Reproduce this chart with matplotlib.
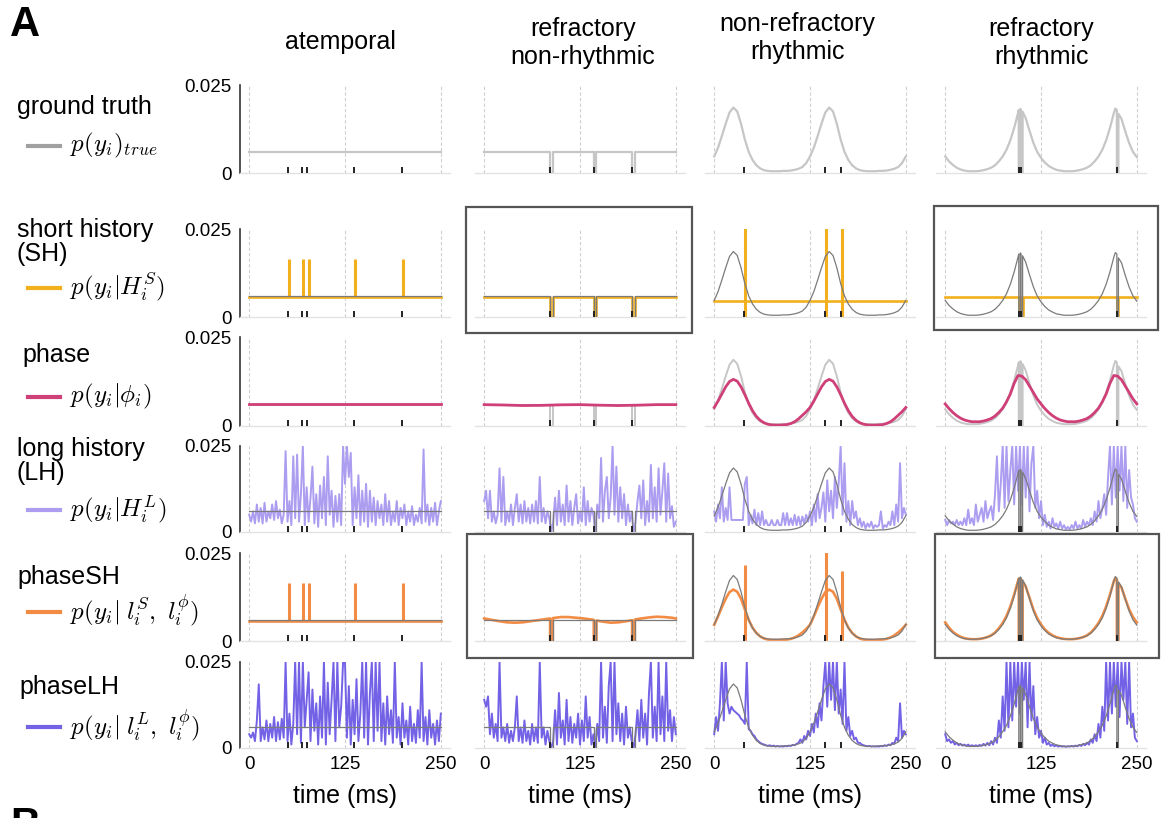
import numpy as np
import matplotlib.pyplot as plt
from matplotlib.lines import Line2D
from matplotlib.patches import Rectangle

plt.rcParams['font.family'] = ['Liberation Sans', 'DejaVu Sans']
plt.rcParams['mathtext.fontset'] = 'cm'

# ---------------- data (probabilities in units of 1e-3) ----------------
t5 = np.arange(0, 251, 5)          # 51 samples
t25 = np.arange(0, 250.1, 2.5)     # 101 samples
flat_t = [0, 250]

# spike times (ms) per condition
spikes_atemp = [50, 69, 76, 137, 199]
spikes_refr = [86, 143, 193]
spikes_rhyth = [39, 144, 165]
spikes_rr = [96, 99, 224]

# --- atemporal ---
gt_atemp = [6.0, 6.0]
sh_atemp = [5.7, 5.7]
phase_atemp = [6.2, 6.2]
psh_atemp = [5.8, 5.8]
needle_t_atemp = [51.5, 70.5, 77.5, 138.5, 200.5]
needle_sh_atemp = [16.5, 16.5, 16.5, 16.5, 16.5]
needle_psh_atemp = [16.5, 16.5, 16.5, 16.5, 16.5]
lh_atemp = [5, 3, 6, 2.5, 8, 3, 7, 2.5, 8.5, 3,
            6, 4, 8, 3.5, 9, 4, 6.5, 2.5, 5, 23.5,
            3, 9, 2, 22, 4, 22.5, 3, 11, 25, 2,
            13, 3, 10, 19, 2.5, 11, 1.5, 13.5, 4, 16,
            2, 22, 5, 12, 1.5, 10.5, 3, 11, 2, 25,
            14, 25, 16, 23, 2, 13, 4, 16.5, 2, 12,
            3, 14, 1.5, 12, 3, 10, 2, 9, 4, 8,
            2, 11, 3, 9, 2, 6, 3, 9, 2, 7,
            4, 8, 2, 6, 3, 7.5, 2, 5, 3, 7,
            2.5, 24, 3, 8, 2, 7, 3, 8.5, 2, 6,
            9]
plh_atemp = [4, 3, 4.5, 2, 8, 18.5, 2, 6, 2.5, 8,
             2, 7, 3, 9, 2, 7.5, 2.5, 8.5, 3, 25,
             2, 10, 1, 7, 25, 4, 25, 1.5, 25, 6,
             14, 22, 2, 17, 5, 13, 1, 15, 3, 25,
             1, 19, 4, 14, 25, 2, 25, 6, 12, 25,
             25, 3, 18, 1, 14, 4, 20, 2, 10, 25,
             3, 25, 1, 16, 25, 2, 25, 5, 25, 2,
             13, 1, 15, 4, 11, 1.5, 25, 3, 9, 1,
             13, 3, 8, 1, 12, 2, 7, 1.5, 11, 3,
             25, 2, 9, 1, 11, 3, 7, 1, 8, 2,
             10]

# --- refractory non-rhythmic ---
refr_t = [0, 86, 86, 89.5, 89.5, 143, 143, 146.5, 146.5, 193, 193, 196.5, 196.5, 250]
gt_refr = [6, 6, 0, 0, 6, 6, 0, 0, 6, 6, 0, 0, 6, 6]
sh_refr = [5.7, 5.7, 0, 0, 5.7, 5.7, 0, 0, 5.7, 5.7, 0, 0, 5.7, 5.7]
phase_refr_t = [0, 25, 50, 75, 100, 125, 150, 175, 200, 225, 250]
phase_refr = [6.0, 5.9, 5.75, 5.8, 5.95, 6.0, 5.85, 5.75, 5.85, 6.0, 6.0]
psh_refr_t = [0, 10, 20, 30, 40, 50, 60, 70, 80, 86, 86, 89.5, 89.5, 100, 110, 120, 130,
              143, 143, 146.5, 146.5, 155, 165, 175, 185, 193, 193, 196.5, 196.5,
              205, 215, 225, 235, 245, 250]
psh_refr = [6.4, 6.0, 5.6, 5.3, 5.2, 5.3, 5.6, 5.9, 6.2, 6.4, 0, 0, 6.5, 6.8, 6.8, 6.6, 6.4,
            6.0, 0, 0, 5.8, 5.5, 5.2, 5.3, 5.6, 5.9, 0, 0, 6.1,
            6.4, 6.7, 6.9, 6.8, 6.6, 6.4]
lh_refr = [9, 12, 4, 12, 3, 6, 2.5, 5, 18.5, 3,
           16, 2, 6, 3, 8, 2, 7, 11, 3, 8,
           2.5, 9, 3, 7, 2.5, 8, 3, 9, 2.5, 16,
           3, 7, 2.5, 6, 4, 0, 3, 10, 2, 12,
           3, 8, 2, 13.5, 3, 9, 2, 7, 11, 2.5,
           6, 3, 13, 2, 9, 3, 7, 5, 0, 8,
           4, 21.5, 3, 12, 16, 4, 10, 25, 5, 19,
           3, 13, 4, 11, 2, 8, 3, 6, 0, 3,
           9, 13.5, 4, 15, 2, 9, 3, 19.5, 4, 13,
           3, 18.5, 5, 12, 20, 3, 17, 4, 7.5, 1.5,
           3]
plh_refr = [14, 12, 15, 4, 10, 3, 7, 2, 25, 3,
            6, 2, 7, 1.5, 5, 2, 6, 15, 2, 6,
            1.5, 8, 2, 5, 1, 7, 2, 6, 1.5, 25,
            3, 6, 1, 5, 2, 0, 2, 11, 1, 16,
            3, 8, 1, 14, 2, 9, 1.5, 7, 3, 10,
            1, 8, 2, 15, 3, 9, 1, 4, 0, 7,
            2, 25, 3, 12, 1.5, 18, 25, 2, 25, 4,
            13, 2, 10, 1, 12, 3, 6, 2, 0, 4,
            11, 2, 14, 3, 10, 1, 16, 25, 3, 12,
            2, 25, 4, 15, 2, 25, 5, 11, 2, 9,
            4]

# --- non-refractory rhythmic (values every 5 ms) ---
gt_rhyth = [4.7, 7.2, 10.5, 14.0, 17.2, 18.6, 17.5, 14.0, 9.5, 6.0,
            3.7, 2.2, 1.3, 0.8, 0.6, 0.5, 0.5, 0.5, 0.6, 0.6,
            0.7, 0.9, 1.2, 1.7, 2.8, 4.7, 7.2, 10.5, 14.0, 17.2,
            18.6, 17.5, 14.0, 9.5, 6.0, 3.7, 2.2, 1.3, 0.8, 0.6,
            0.5, 0.5, 0.5, 0.6, 0.6, 0.7, 0.9, 1.2, 1.7, 2.8,
            4.7]
sh_rhyth = [4.6, 4.6]
needle_t_rhyth = [40.5, 145.5, 166.5]
needle_sh_rhyth = [26, 26, 26]
needle_psh_rhyth = [21.6, 26, 19.8]
phase_rhyth = [5.2, 7.0, 9.0, 11.0, 12.5, 13.1, 12.6, 11.0, 8.8, 6.4,
               4.3, 2.7, 1.6, 0.9, 0.5, 0.3, 0.25, 0.25, 0.3, 0.4,
               0.7, 1.2, 2.0, 3.0, 4.0, 5.2, 7.0, 9.0, 11.0, 12.5,
               13.1, 12.6, 11.0, 8.8, 6.4, 4.3, 2.7, 1.6, 0.9, 0.5,
               0.3, 0.25, 0.25, 0.3, 0.4, 0.7, 1.2, 2.0, 3.0, 4.0,
               5.2]
psh_rhyth = [4.6, 7.0, 9.6, 12.0, 13.9, 14.6, 14.0, 12.0, 9.0, 6.0,
             3.8, 2.3, 1.3, 0.7, 0.4, 0.3, 0.3, 0.3, 0.3, 0.4,
             0.6, 1.0, 1.6, 2.4, 3.4, 4.6, 7.0, 9.6, 12.0, 13.9,
             14.6, 14.0, 12.0, 9.0, 6.0, 3.8, 2.3, 1.3, 0.7, 0.4,
             0.3, 0.3, 0.3, 0.3, 0.4, 0.6, 1.0, 1.6, 2.4, 3.4,
             4.6]
lh_rhyth = [6, 3, 8, 4, 13, 3, 7, 3.5, 13, 3.5,
            3.5, 3.5, 3.5, 3.5, 3.5, 3.5, 14, 16, 2, 5,
            2.5, 6.5, 2, 5.5, 2, 6, 2, 3.5, 2, 2,
            3.5, 2, 2, 3.5, 2, 2, 5.5, 2, 5.5, 2,
            4, 2, 5, 2, 4.5, 2, 4.5, 2.5, 5, 3,
            6, 2, 8, 3, 11, 4, 7, 11.5, 3, 15,
            6, 12, 4, 16, 7, 14.5, 25, 5, 20, 3,
            9, 2, 9, 4, 6, 2, 4, 1.5, 3, 1,
            2.5, 1.5, 3, 1, 2, 1.5, 2, 6, 1, 2,
            1.5, 3, 2, 6, 2, 8, 3, 20, 4, 7,
            5]
plh_rhyth = [4, 9, 5, 13, 25, 8, 25, 13, 10, 12,
             11, 10.5, 10, 9.5, 8.5, 8, 7, 25, 5.5, 5,
             4, 3.5, 2.5, 2, 1.5, 1.2, 1, 0.8, 0.6, 0.8,
             0.5, 0.7, 0.4, 0.6, 0.4, 0.5, 0.4, 0.6, 0.5, 0.7,
             0.6, 0.9, 0.8, 1.2, 1.5, 2.5, 1.5, 3.5, 2.5, 5,
             3.5, 7, 4.5, 10, 6, 13, 8, 18, 25, 12,
             25, 14, 25, 11, 25, 10, 17, 7, 25, 5,
             9, 3.5, 5, 2.5, 3, 1.5, 1.5, 1, 0.8, 0.6,
             0.5, 0.6, 0.4, 0.5, 0.4, 0.5, 0.4, 0.6, 0.5, 0.8,
             0.6, 1, 0.8, 1.5, 1.2, 3, 2, 13, 3, 5,
             4]

# --- refractory rhythmic ---
rr_t = [0, 5, 10, 15, 20, 25, 30, 35, 40, 45, 50, 55, 60, 65, 70, 75, 80, 85, 90, 95,
        96, 96, 98, 98, 99, 99, 101, 101,
        105, 110, 115, 120, 125, 130, 135, 140, 145, 150, 155, 160, 165, 170, 175, 180,
        185, 190, 195, 200, 205, 210, 215, 220,
        222, 224, 224, 226, 226,
        230, 235, 240, 245, 250]
gt_rr = [4.7, 3.3, 2.3, 1.5, 1.0, 0.7, 0.5, 0.5, 0.5, 0.6, 0.8, 1.1, 1.5, 2.2, 3.3, 4.7,
         6.6, 9.3, 12.8, 17.0,
         17.9, 0, 0, 18.2, 18.0, 0, 0, 17.4,
         15.6, 12.0, 8.6, 6.0, 4.3, 3.0, 2.0, 1.4, 0.9, 0.7, 0.5, 0.5, 0.5, 0.6, 0.8, 1.1,
         1.5, 2.2, 3.3, 4.7, 6.6, 9.3, 12.8, 17.0,
         18.3, 17.9, 0, 0, 16.8,
         15.4, 11.8, 8.5, 6.0, 4.5]
sh_rr_t = [0, 96, 96, 98, 98, 99, 99, 101, 101, 224, 224, 226, 226, 250]
sh_rr = [5.6, 5.6, 0, 0, 5.6, 5.6, 0, 0, 5.6, 5.6, 0, 0, 5.6, 5.6]
phase_rr = [6.2, 4.9, 3.8, 2.9, 2.2, 1.7, 1.4, 1.2, 1.2, 1.2,
            1.4, 1.7, 2.1, 2.8, 3.8, 5.0, 6.8, 9.0, 12.0, 14.2,
            14.0, 13.0, 11.2, 9.4, 7.6, 6.2, 4.9, 3.8, 2.9, 2.2,
            1.7, 1.4, 1.2, 1.2, 1.2, 1.4, 1.7, 2.1, 2.8, 3.8,
            5.0, 6.8, 9.0, 12.0, 14.2, 14.0, 13.0, 11.2, 9.4, 7.6,
            6.2]
psh_rr = [5.3, 3.8, 2.6, 1.8, 1.2, 0.8, 0.6, 0.5, 0.5, 0.6, 0.8, 1.1, 1.6, 2.4, 3.6, 5.1,
          7.1, 9.8, 13.2, 17.0,
          17.7, 0, 0, 17.8, 17.5, 0, 0, 16.9,
          15.5, 12.3, 9.0, 6.5, 4.7, 3.3, 2.3, 1.6, 1.1, 0.8, 0.6, 0.5, 0.5, 0.6, 0.8, 1.1,
          1.6, 2.4, 3.6, 5.1, 7.1, 9.8, 13.2, 17.0,
          17.9, 17.4, 0, 0, 16.4,
          15.2, 12.0, 9.0, 6.8, 5.3]
lh_rr = [3.5, 2, 3.5, 2.5, 3, 2, 3.5, 2, 3, 2,
         4, 2, 6.5, 2.5, 4, 2, 8, 3, 5, 7,
         3, 9, 4, 6, 7.5, 3.5, 11, 22, 6, 14,
         25, 7, 25, 9, 18, 25, 8, 25, 12, 25,
         8, 25, 10, 25, 6, 20, 25, 7, 12, 4,
         9, 2, 5, 1.5, 3, 1, 4, 1.5, 2.5, 1,
         3, 1, 2, 0.8, 1.5, 0.7, 2, 1, 3, 1,
         2, 1, 3.5, 1.5, 3, 2, 4, 2, 6, 3,
         9, 4, 7, 11, 5, 16, 25, 8, 25, 10,
         25, 12, 25, 9, 25, 7, 18, 10, 8, 4,
         3]
plh_rr = [4, 2, 2.5, 1.5, 2, 1, 1.5, 0.8, 1.2, 0.7,
          1, 0.6, 1, 0.5, 0.8, 0.5, 0.8, 0.5, 0.9, 0.6,
          1.2, 0.7, 1.5, 0.8, 2, 1, 3, 1.5, 8, 3,
          15, 5, 25, 6, 25, 8, 25, 12, 25, 10,
          25, 14, 25, 6, 25, 8, 18, 4, 9, 3,
          5, 1.5, 3, 1, 1.5, 0.6, 1, 0.5, 0.8, 0.4,
          0.6, 0.4, 0.5, 0.3, 0.5, 0.4, 0.6, 0.4, 0.7, 0.5,
          0.9, 0.6, 1.2, 0.8, 1.5, 1, 2.5, 1.5, 4, 2,
          7, 3, 12, 5, 25, 8, 25, 10, 25, 12,
          25, 9, 25, 14, 25, 7, 25, 6, 10, 3,
          2]

col_titles = ['atemporal', 'refractory\nnon-rhythmic', 'non-refractory\nrhythmic', 'refractory\nrhythmic']
row_names = ['ground truth', 'short history\n(SH)', 'phase', 'long history\n(LH)', 'phaseSH', 'phaseLH']
row_math = [r'$p(y_i)_{true}$', r'$p(y_i|H_i^S)$', r'$p(y_i|\phi_i)$', r'$p(y_i|H_i^L)$',
            r'$p(y_i|\;l_i^S,\ l_i^\phi)$', r'$p(y_i|\;l_i^L,\ l_i^\phi)$']

# ---------------- tables built from the lists ----------------
spikes = [spikes_atemp, spikes_refr, spikes_rhyth, spikes_rr]
gt = [(flat_t, gt_atemp), (refr_t, gt_refr), (t5, gt_rhyth), (rr_t, gt_rr)]
models = [
    [(flat_t, sh_atemp), (refr_t, sh_refr), (flat_t, sh_rhyth), (sh_rr_t, sh_rr)],
    [(flat_t, phase_atemp), (phase_refr_t, phase_refr), (t5, phase_rhyth), (t5, phase_rr)],
    [(t25, lh_atemp), (t25, lh_refr), (t25, lh_rhyth), (t25, lh_rr)],
    [(flat_t, psh_atemp), (psh_refr_t, psh_refr), (t5, psh_rhyth), (rr_t, psh_rr)],
    [(t25, plh_atemp), (t25, plh_refr), (t25, plh_rhyth), (t25, plh_rr)],
]
needles = {
    (1, 0): (needle_t_atemp, sh_atemp[0], needle_sh_atemp),
    (1, 2): (needle_t_rhyth, 0, needle_sh_rhyth),
    (4, 0): (needle_t_atemp, psh_atemp[0], needle_psh_atemp),
    (4, 2): (needle_t_rhyth, 0, needle_psh_rhyth),
}
for row in models:
    for x, y in row:
        assert len(x) == len(y), (len(x), len(y))

C_GT_LIGHT = '#c6c6c6'
C_GT_DARK = '#7b7b7b'
row_colors = ['#a0a0a0', '#f2b01e', '#cf3f78', '#ac9df0', '#f28c45', '#7462e6']
GRID = '#cfcfcf'

# ---------------- layout (pixels) ----------------
W, H = 1163, 818
fig = plt.figure(figsize=(W / 100, H / 100), dpi=100)
col_left = [240, 475, 705, 936]
ax_w = 210
row_top = [85, 229, 337, 446, 553, 662]
row_h = [88, 88, 89, 86, 88, 86]

for r in range(6):
    for c in range(4):
        ax = fig.add_axes([col_left[c] / W, 1 - (row_top[r] + row_h[r]) / H,
                           ax_w / W, row_h[r] / H])
        for x in (0, 125, 250):
            ax.axvline(x, color=GRID, lw=0.8, ls=(0, (3, 2)), zorder=0)
        gx, gy = gt[c]
        gy = np.array(gy) * 1e-3
        if r == 0:
            ax.plot(gx, gy, color=C_GT_LIGHT, lw=1.6, zorder=2)
        else:
            mx, my = models[r - 1][c]
            my = np.array(my) * 1e-3
            col = row_colors[r]
            if r == 2:
                ax.plot(gx, gy, color=C_GT_LIGHT, lw=1.4, zorder=2)
                ax.plot(mx, my, color=col, lw=2.0, zorder=3)
            else:
                lw = 1.4 if r in (3, 5) else 1.9
                ax.plot(mx, my, color=col, lw=lw, zorder=2)
                if (r, c) in needles:
                    nt, lo, hi = needles[(r, c)]
                    ax.vlines(nt, lo * 1e-3, np.array(hi) * 1e-3, color=col, lw=2.2, zorder=2)
                ax.plot(gx, gy, color=C_GT_DARK, lw=0.9, zorder=4)
        ax.vlines(spikes[c], 0, 0.0018, color='#222222', lw=1.4, zorder=5)

        ax.set_xlim(-12, 262)
        ax.set_ylim(0, 0.025)
        for s in ('top', 'right'):
            ax.spines[s].set_visible(False)
        ax.spines['bottom'].set_color('#e2e2e2')
        ax.spines['bottom'].set_linewidth(1.0)
        ax.tick_params(length=0, pad=6, labelsize=13.5)
        if c == 0:
            ax.spines['left'].set_color('#333333')
            ax.spines['left'].set_linewidth(1.2)
            ax.set_yticks([0, 0.025])
            ax.set_yticklabels(['0', '0.025'])
        else:
            ax.spines['left'].set_visible(False)
            ax.set_yticks([])
        if r == 5:
            ax.set_xticks([0, 125, 250])
            ax.set_xticklabels(['0', '125', '250'])
            ax.set_xlabel('time (ms)', fontsize=18, labelpad=8)
        else:
            ax.set_xticks([])


def fx(x):
    return x / W


def fy(y):
    return 1 - y / H


# column titles
title_x = [340, 583, 797, 1041]
title_y = [42, 43, 38, 43]
for name, x, y in zip(col_titles, title_x, title_y):
    fig.text(fx(x), fy(y), name, ha='center', va='center', fontsize=18, linespacing=1.25)

# row labels with legend samples
label_x = [17, 17, 22, 17, 17, 19]
label_y = [107, 242, 355, 461, 577, 687]
legend_y = [146, 288, 397, 510, 612, 727]
for i in range(6):
    fig.text(fx(label_x[i]), fy(label_y[i]), row_names[i], ha='left', va='center',
             fontsize=18, linespacing=1.0)
    fig.add_artist(Line2D([fx(28), fx(60)], [fy(legend_y[i]), fy(legend_y[i])],
                          color=row_colors[i], lw=3, transform=fig.transFigure))
    fig.text(fx(70), fy(legend_y[i] - 1), row_math[i], ha='left', va='center', fontsize=18)

# highlight boxes
boxes = [(466, 207, 692, 333), (934, 206, 1158, 330), (467, 534, 693, 658), (935, 534, 1159, 658)]
for x0, y0, x1, y1 in boxes:
    fig.add_artist(Rectangle((fx(x0), fy(y1)), (x1 - x0) / W, (y1 - y0) / H, fill=False,
                             edgecolor='#555555', lw=1.6, transform=fig.transFigure))

fig.text(fx(10), fy(25), 'A', fontsize=30, fontweight='bold', ha='left', va='center')
fig.text(fx(10), fy(806), 'B', fontsize=30, fontweight='bold', ha='left', va='top')

fig.savefig('out.png', dpi=100)
